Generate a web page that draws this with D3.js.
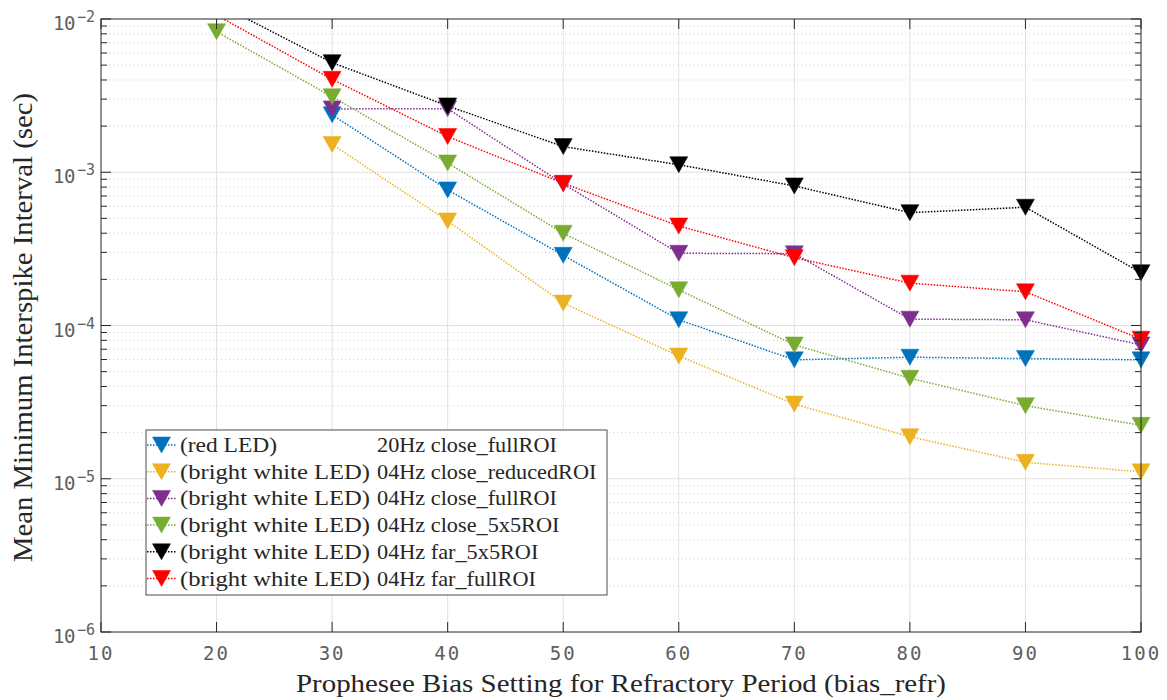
<!DOCTYPE html>
<html>
<head>
<meta charset="utf-8">
<script src="https://cdn.jsdelivr.net/npm/d3@7/dist/d3.min.js"></script>
<style>
  html, body { margin: 0; padding: 0; background: #fff; }
  svg { display: block; }
</style>
</head>
<body>
<svg id="chart" width="1167" height="700"></svg>
<script>
// Bias setting values (x) shared by all measurement runs
const biasRefr = [20, 30, 40, 50, 60, 70, 80, 90, 100];

// Mean minimum interspike interval (sec); null = no measurement
const redLed20HzCloseFull      = [null, 2.37e-3, 7.67e-4, 2.87e-4, 1.09e-4, 5.97e-5, 6.21e-5, 6.08e-5, 5.97e-5];
const whiteLed04HzCloseReduced = [null, 1.52e-3, 4.81e-4, 1.40e-4, 6.33e-5, 3.07e-5, 1.88e-5, 1.28e-5, 1.11e-5];
const whiteLed04HzCloseFull    = [null, 2.59e-3, 2.60e-3, 8.39e-4, 2.96e-4, 2.94e-4, 1.10e-4, 1.09e-4, 7.47e-5];
const whiteLed04HzClose5x5     = [8.26e-3, 3.11e-3, 1.15e-3, 4.00e-4, 1.71e-4, 7.47e-5, 4.53e-5, 3.00e-5, 2.23e-5];
const whiteLed04HzFar5x5       = [1.27e-2, 5.19e-3, 2.71e-3, 1.47e-3, 1.12e-3, 8.14e-4, 5.45e-4, 5.91e-4, 2.21e-4];
const whiteLed04HzFarFull      = [1.06e-2, 4.04e-3, 1.71e-3, 8.48e-4, 4.46e-4, 2.77e-4, 1.89e-4, 1.66e-4, 8.14e-5];

// Legend text: light source part and condition part
const legendSource = ["(red LED)", "(bright white LED)", "(bright white LED)", "(bright white LED)", "(bright white LED)", "(bright white LED)"];
const legendCondition = ["20Hz close_fullROI", "04Hz close_reducedROI", "04Hz close_fullROI", "04Hz close_5x5ROI", "04Hz far_5x5ROI", "04Hz far_fullROI"];
const seriesColors = ["#0072BD", "#EDB120", "#7E2F8E", "#77AC30", "#000000", "#FF0000"];

const xTicks = [10, 20, 30, 40, 50, 60, 70, 80, 90, 100];
const yExponents = [-6, -5, -4, -3, -2];

const xLabel = "Prophesee Bias Setting for Refractory Period (bias_refr)";
const yLabel = "Mean Minimum Interspike Interval (sec)";

const series = [redLed20HzCloseFull, whiteLed04HzCloseReduced, whiteLed04HzCloseFull,
                whiteLed04HzClose5x5, whiteLed04HzFar5x5, whiteLed04HzFarFull];

// ---- layout ----
const plot = { left: 101, right: 1141, top: 19, bottom: 632 };
const svg = d3.select("#chart");
svg.append("rect").attr("width", 1167).attr("height", 700).attr("fill", "#fff");

const x = d3.scaleLinear().domain([10, 100]).range([plot.left, plot.right]);
const y = d3.scaleLog().domain([1e-6, 1e-2]).range([plot.bottom, plot.top]);

svg.append("defs").append("clipPath").attr("id", "plotClip")
  .append("rect")
  .attr("x", plot.left).attr("y", plot.top)
  .attr("width", plot.right - plot.left).attr("height", plot.bottom - plot.top);

// ---- grid ----
const grid = svg.append("g");
const minorVals = [];
yExponents.slice(0, -1).forEach(e => {
  for (let m = 2; m <= 9; m++) minorVals.push(m * Math.pow(10, e));
});
grid.selectAll("line.minor").data(minorVals).join("line")
  .attr("class", "minor")
  .attr("x1", plot.left).attr("x2", plot.right)
  .attr("y1", d => y(d)).attr("y2", d => y(d))
  .attr("stroke", "#cfcfcf").attr("stroke-width", 1)
  .attr("stroke-dasharray", "1,3");
grid.selectAll("line.majorY").data(yExponents.slice(1, -1)).join("line")
  .attr("class", "majorY")
  .attr("x1", plot.left).attr("x2", plot.right)
  .attr("y1", d => y(Math.pow(10, d))).attr("y2", d => y(Math.pow(10, d)))
  .attr("stroke", "#e1e1e1").attr("stroke-width", 1);
grid.selectAll("line.majorX").data(xTicks.slice(1, -1)).join("line")
  .attr("class", "majorX")
  .attr("x1", d => x(d)).attr("x2", d => x(d))
  .attr("y1", plot.top).attr("y2", plot.bottom)
  .attr("stroke", "#e1e1e1").attr("stroke-width", 1);

// ---- data ----
const triW = 18, triH = 16;
const triPath = `M${-triW / 2},${-triH / 2}L${triW / 2},${-triH / 2}L0,${triH / 2}Z`;

const lineLayer = svg.append("g").attr("clip-path", "url(#plotClip)");
const markLayer = svg.append("g");
const line = d3.line()
  .defined(d => d.v !== null)
  .x(d => x(d.b)).y(d => y(d.v));
const [yMin, yMax] = y.domain();

series.forEach((vals, i) => {
  const pts = biasRefr.map((b, j) => ({ b, v: vals[j] }));
  const g = lineLayer.append("g");
  g.append("path").datum(pts)
    .attr("d", line)
    .attr("fill", "none")
    .attr("stroke", seriesColors[i])
    .attr("stroke-width", 1.5)
    .attr("stroke-dasharray", "1.5,1.5");
  // markers are drawn whole, but only for points inside the axis limits
  markLayer.append("g").selectAll("path")
    .data(pts.filter(d => d.v !== null && d.v >= yMin && d.v <= yMax))
    .join("path")
    .attr("d", triPath)
    .attr("transform", d => `translate(${x(d.b)},${y(d.v)})`)
    .attr("fill", seriesColors[i])
    .attr("stroke", seriesColors[i])
    .attr("stroke-width", 0.5);
});

// ---- axes box and ticks ----
const axisColor = "#262626";
const axes = svg.append("g");
axes.append("rect")
  .attr("x", plot.left).attr("y", plot.top)
  .attr("width", plot.right - plot.left).attr("height", plot.bottom - plot.top)
  .attr("fill", "none").attr("stroke", axisColor).attr("stroke-width", 1);

const majorLen = 10, minorLen = 6;
xTicks.forEach(t => {
  axes.append("line").attr("x1", x(t)).attr("x2", x(t))
    .attr("y1", plot.bottom).attr("y2", plot.bottom - majorLen)
    .attr("stroke", axisColor);
  axes.append("line").attr("x1", x(t)).attr("x2", x(t))
    .attr("y1", plot.top).attr("y2", plot.top + majorLen)
    .attr("stroke", axisColor);
});
yExponents.forEach(e => {
  const yy = y(Math.pow(10, e));
  axes.append("line").attr("x1", plot.left).attr("x2", plot.left + majorLen)
    .attr("y1", yy).attr("y2", yy).attr("stroke", axisColor);
  axes.append("line").attr("x1", plot.right).attr("x2", plot.right - majorLen)
    .attr("y1", yy).attr("y2", yy).attr("stroke", axisColor);
});
minorVals.forEach(v => {
  const yy = y(v);
  axes.append("line").attr("x1", plot.left).attr("x2", plot.left + minorLen)
    .attr("y1", yy).attr("y2", yy).attr("stroke", axisColor);
  axes.append("line").attr("x1", plot.right).attr("x2", plot.right - minorLen)
    .attr("y1", yy).attr("y2", yy).attr("stroke", axisColor);
});

// ---- tick labels ----
const tickColor = "#5e5e5e";
svg.append("g").selectAll("text").data(xTicks).join("text")
  .attr("x", d => x(d)).attr("y", 660)
  .attr("text-anchor", "middle")
  .attr("font-family", "'DejaVu Sans Mono', monospace")
  .attr("font-size", 19)
  .attr("letter-spacing", 2)
  .attr("fill", tickColor)
  .text(d => d);

const yLab = svg.append("g").selectAll("text").data(yExponents).join("text")
  .attr("x", 95)
  .attr("y", d => y(Math.pow(10, d)) + 11)
  .attr("text-anchor", "end")
  .attr("font-family", "'DejaVu Sans Mono', monospace")
  .attr("fill", tickColor);
yLab.append("tspan").attr("font-size", 19).attr("letter-spacing", -0.5).text("10");
yLab.append("tspan").attr("font-size", 15).attr("dy", -8).attr("dx", 2).text(d => "\u2212" + Math.abs(d));

// ---- axis titles ----
const titleFont = "'Liberation Serif', 'Times New Roman', serif";
svg.append("text")
  .attr("x", (plot.left + plot.right) / 2).attr("y", 692)
  .attr("text-anchor", "middle")
  .attr("font-family", titleFont).attr("font-size", 25)
  .attr("fill", "#262626")
  .attr("textLength", 650).attr("lengthAdjust", "spacingAndGlyphs")
  .text(xLabel);
svg.append("text")
  .attr("transform", `translate(32,${(93 + 562) / 2}) rotate(-90)`)
  .attr("text-anchor", "middle")
  .attr("font-family", titleFont).attr("font-size", 27)
  .attr("fill", "#262626")
  .attr("textLength", 469).attr("lengthAdjust", "spacingAndGlyphs")
  .text(yLabel);

// ---- legend ----
const leg = svg.append("g");
const legBox = { x: 146, y: 430, w: 461, h: 165 };
leg.append("rect")
  .attr("x", legBox.x).attr("y", legBox.y)
  .attr("width", legBox.w).attr("height", legBox.h)
  .attr("fill", "#fff").attr("stroke", "#4d4d4d").attr("stroke-width", 1);

const rowH = 26.7, firstRow = 445;
legendSource.forEach((src, i) => {
  const cy = firstRow + i * rowH;
  leg.append("line")
    .attr("x1", 147).attr("x2", 176).attr("y1", cy).attr("y2", cy)
    .attr("stroke", seriesColors[i]).attr("stroke-width", 1.5)
    .attr("stroke-dasharray", "1.5,1.5");
  leg.append("path").attr("d", triPath)
    .attr("transform", `translate(161.5,${cy})`)
    .attr("fill", seriesColors[i]).attr("stroke", seriesColors[i]).attr("stroke-width", 0.5);
  leg.append("text")
    .attr("x", 180).attr("y", cy + 7)
    .attr("font-family", titleFont).attr("font-size", 21)
    .attr("fill", "#262626")
    .attr("textLength", src.length > 10 ? 190 : 97).attr("lengthAdjust", "spacingAndGlyphs")
    .text(src);
  const cond = leg.append("text")
    .attr("x", 377).attr("y", cy + 7)
    .attr("font-family", titleFont).attr("font-size", 21)
    .attr("fill", "#262626")
    .text(legendCondition[i]);
  // widen slightly toward Computer Modern proportions
  const w = cond.node().getComputedTextLength();
  cond.attr("textLength", w * 1.06).attr("lengthAdjust", "spacingAndGlyphs");
});
</script>
</body>
</html>
